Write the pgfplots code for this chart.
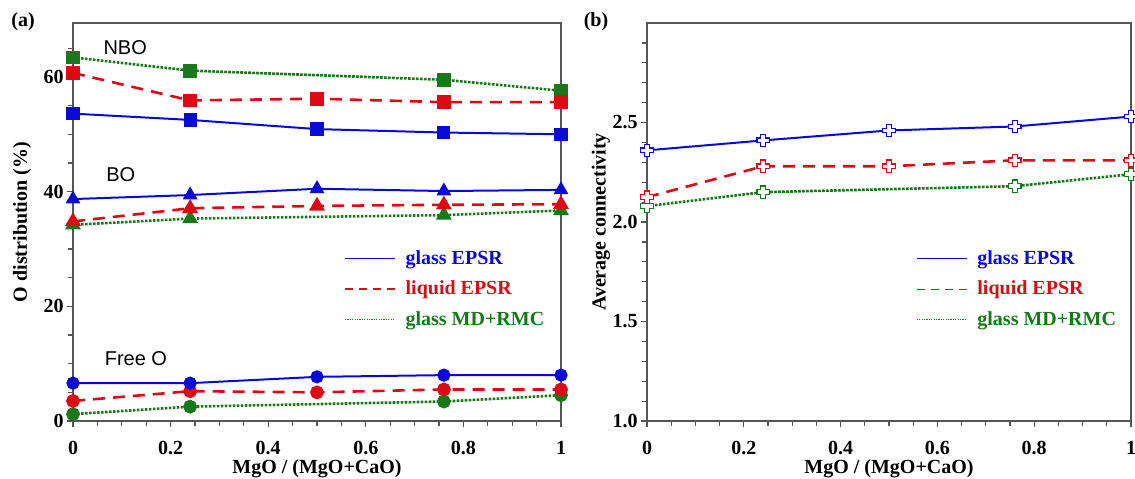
\documentclass[border=0pt]{standalone}
\usepackage{pgfplots}
\pgfplotsset{compat=1.18}
\usepackage{fontspec}
\setmainfont{Liberation Serif}
\newfontfamily\annfont{Liberation Sans}
\definecolor{cblue}{RGB}{10,10,215}
\definecolor{cred}{RGB}{220,10,20}
\definecolor{cgreen}{RGB}{25,120,25}
\definecolor{axgray}{RGB}{85,85,85}

\pgfdeclareplotmark{oplus}{%
  \pgfpathmoveto{\pgfqpoint{-0.38\pgfplotmarksize}{\pgfplotmarksize}}%
  \pgfpathlineto{\pgfqpoint{0.38\pgfplotmarksize}{\pgfplotmarksize}}%
  \pgfpathlineto{\pgfqpoint{0.38\pgfplotmarksize}{0.38\pgfplotmarksize}}%
  \pgfpathlineto{\pgfqpoint{\pgfplotmarksize}{0.38\pgfplotmarksize}}%
  \pgfpathlineto{\pgfqpoint{\pgfplotmarksize}{-0.38\pgfplotmarksize}}%
  \pgfpathlineto{\pgfqpoint{0.38\pgfplotmarksize}{-0.38\pgfplotmarksize}}%
  \pgfpathlineto{\pgfqpoint{0.38\pgfplotmarksize}{-\pgfplotmarksize}}%
  \pgfpathlineto{\pgfqpoint{-0.38\pgfplotmarksize}{-\pgfplotmarksize}}%
  \pgfpathlineto{\pgfqpoint{-0.38\pgfplotmarksize}{-0.38\pgfplotmarksize}}%
  \pgfpathlineto{\pgfqpoint{-\pgfplotmarksize}{-0.38\pgfplotmarksize}}%
  \pgfpathlineto{\pgfqpoint{-\pgfplotmarksize}{0.38\pgfplotmarksize}}%
  \pgfpathlineto{\pgfqpoint{-0.38\pgfplotmarksize}{0.38\pgfplotmarksize}}%
  \pgfpathclose
  \pgfusepathqfillstroke}

% glass EPSR / liquid EPSR (x = 0,0.24,0.5,0.76,1)
\pgfplotstableread{
x    nboG nboL boG  boL  frG frL cG   cL
0    53.6 60.7 38.7 34.8 6.6 3.5 2.36 2.125
0.24 52.5 55.9 39.4 37.1 6.6 5.2 2.41 2.28
0.5  50.9 56.2 40.5 37.5 7.7 5.0 2.46 2.28
0.76 50.3 55.6 40.1 37.7 8.0 5.5 2.48 2.31
1    50.0 55.6 40.3 37.8 8.0 5.5 2.53 2.31
}\epsr
% glass MD+RMC
\pgfplotstableread{
x    nbo  bo   fr  c
0    63.4 34.2 1.2 2.08
0.24 61.1 35.3 2.5 2.15
0.76 59.5 35.9 3.4 2.18
1    57.6 36.7 4.5 2.24
}\mdrmc

\pgfplotsset{
  myaxis/.style={
    scale only axis, anchor=south west,
    axis line style={axgray, line width=0.8pt},
    every tick/.style={axgray, line width=0.6pt},
    tick align=outside, xtick pos=bottom, ytick pos=left,
    major tick length=3pt, minor tick length=2.5pt,
    xmin=0, xmax=1, xtick={0,0.2,0.4,0.6,0.8,1}, minor x tick num=3,
    /pgf/number format/assume math mode=true,
    tick label style={font=\fontsize{10}{12}\selectfont\bfseries},
    xticklabel style={yshift=-3.5pt},
    yticklabel style={inner sep=1.5pt},
    xlabel={MgO / (MgO+CaO)},
    every axis x label/.style={at={(rel axis cs:0.5,0)}, yshift=-26pt, anchor=base,
      font=\fontsize{10}{12}\selectfont\bfseries},
    legend style={draw=none, fill=none, inner sep=0pt, row sep=2.8pt, column sep=3pt,
      font=\fontsize{10}{12}\selectfont\bfseries, anchor=north west},
    legend cell align=left,
    legend image code/.code={\draw[##1] (0pt,0pt) -- (25pt,0pt);},
  },
  sblue/.style={cblue, line width=1pt, solid},
  sred/.style={cred, line width=1.3pt, dash pattern=on 6pt off 4pt},
  sgreen/.style={cgreen, line width=1.3pt, dash pattern=on 1.3pt off 0.7pt},
}

\begin{document}
\begin{tikzpicture}
\path[use as bounding box] (0,0) rectangle (567.5pt,239pt);

\begin{axis}[myaxis, at={(36.5pt,28.5pt)}, width=244pt, height=199pt,
  ymin=0, ymax=69.4, ytick={0,20,40,60},
  minor ytick={5,10,15,25,30,35,45,50,55,65},
  ylabel={O distribution (\%)},
  every axis y label/.style={at={(rel axis cs:0,0.5)}, xshift=-25.5pt, rotate=90, anchor=center,
    font=\fontsize{10}{12}\selectfont\bfseries},
  legend style={at={(rel axis cs:0.555,0.44)}},
]
\addlegendimage{cblue, line width=0.6pt}
\addlegendentry{\textcolor{cblue}{glass EPSR}}
\addlegendimage{cred, line width=0.7pt, dash pattern=on 4pt off 3pt}
\addlegendentry{\textcolor{cred}{liquid EPSR}}
\addlegendimage{cgreen, line width=0.7pt, dash pattern=on 0.6pt off 0.6pt}
\addlegendentry{\textcolor{cgreen}{glass MD+RMC}}

\addplot[sgreen, forget plot, mark=square*, mark size=2.8pt, mark options={solid, fill=cgreen}] table[x=x, y=nbo] {\mdrmc};
\addplot[sred, forget plot, mark=square*, mark size=2.8pt, mark options={solid, fill=cred}] table[x=x, y=nboL] {\epsr};
\addplot[sblue, forget plot, mark=square*, mark size=2.8pt, mark options={solid, fill=cblue}] table[x=x, y=nboG] {\epsr};

\addplot[sgreen, forget plot, mark=triangle*, mark size=3.3pt, mark options={solid, fill=cgreen}] table[x=x, y=bo] {\mdrmc};
\addplot[sred, forget plot, mark=triangle*, mark size=3.3pt, mark options={solid, fill=cred}] table[x=x, y=boL] {\epsr};
\addplot[sblue, forget plot, mark=triangle*, mark size=3.3pt, mark options={solid, fill=cblue}] table[x=x, y=boG] {\epsr};

\addplot[sgreen, forget plot, mark=*, mark size=2.8pt, mark options={solid, fill=cgreen}] table[x=x, y=fr] {\mdrmc};
\addplot[sred, forget plot, mark=*, mark size=2.8pt, mark options={solid, fill=cred}] table[x=x, y=frL] {\epsr};
\addplot[sblue, forget plot, mark=*, mark size=2.8pt, mark options={solid, fill=cblue}] table[x=x, y=frG] {\epsr};

\node[font=\annfont\fontsize{10}{12}\selectfont] at (axis cs:0.107,65.1) {NBO};
\node[font=\annfont\fontsize{10}{12}\selectfont] at (axis cs:0.098,42.9) {BO};
\node[font=\annfont\fontsize{10}{12}\selectfont] at (axis cs:0.129,10.8) {Free O};
\end{axis}

\begin{axis}[myaxis, at={(323.5pt,28.5pt)}, width=242pt, height=199pt,
  ymin=1, ymax=3, ytick={1,1.5,2,2.5},
  minor ytick={1.1,1.2,1.3,1.4,1.6,1.7,1.8,1.9,2.1,2.2,2.3,2.4,2.6,2.7,2.8,2.9},
  yticklabel style={/pgf/number format/.cd, fixed, fixed zerofill, precision=1},
  ylabel={Average connectivity},
  every axis y label/.style={at={(rel axis cs:0,0.5)}, xshift=-23pt, rotate=90, anchor=center,
    font=\fontsize{10}{12}\selectfont\bfseries},
  legend style={at={(rel axis cs:0.555,0.44)}},
]
\addlegendimage{cblue, line width=0.6pt}
\addlegendentry{\textcolor{cblue}{glass EPSR}}
\addlegendimage{cred, line width=0.7pt, dash pattern=on 4pt off 3pt}
\addlegendentry{\textcolor{cred}{liquid EPSR}}
\addlegendimage{cgreen, line width=0.7pt, dash pattern=on 0.6pt off 0.6pt}
\addlegendentry{\textcolor{cgreen}{glass MD+RMC}}

\addplot[sgreen, forget plot, mark=oplus, mark size=3.1pt, mark options={solid, fill=white, line width=0.6pt}] table[x=x, y=c] {\mdrmc};
\addplot[sred, forget plot, mark=oplus, mark size=3.1pt, mark options={solid, fill=white, line width=0.6pt}] table[x=x, y=cL] {\epsr};
\addplot[sblue, forget plot, mark=oplus, mark size=3.1pt, mark options={solid, fill=white, line width=0.6pt}] table[x=x, y=cG] {\epsr};
\end{axis}

\node[font=\fontsize{10}{12}\selectfont\bfseries] at (11.5pt,228pt) {(a)};
\node[font=\fontsize{10}{12}\selectfont\bfseries] at (298pt,228pt) {(b)};
\end{tikzpicture}
\end{document}
